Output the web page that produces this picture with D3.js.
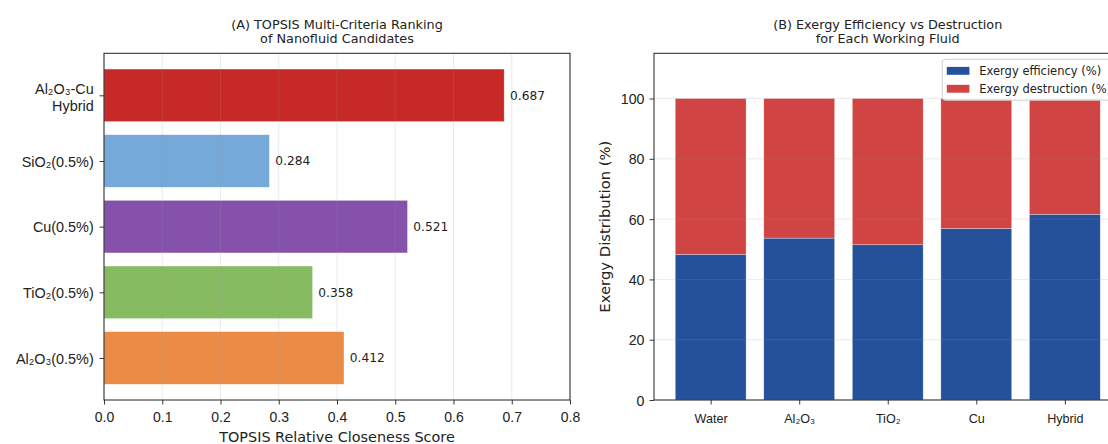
<!DOCTYPE html>
<html>
<head>
<meta charset="utf-8">
<script src="https://cdn.jsdelivr.net/npm/d3@7"></script>
<style>
  html, body { margin: 0; padding: 0; background: #fff; }
  svg { display: block; font-family: "DejaVu Sans", sans-serif; }
</style>
</head>
<body>
<svg id="fig" width="1108" height="444"></svg>
<script>
// ---- Panel A: TOPSIS ranking (bottom to top) ----
const topsisCandidates = ["Al₂O₃(0.5%)", "TiO₂(0.5%)", "Cu(0.5%)", "SiO₂(0.5%)", "Al₂O₃-Cu\nHybrid"];
const topsisScores = [0.412, 0.358, 0.521, 0.284, 0.687];
const topsisColors = ["#ec8b45", "#87bb62", "#8551aa", "#74a9da", "#c72828"];
const topsisTicks = [0.0, 0.1, 0.2, 0.3, 0.4, 0.5, 0.6, 0.7, 0.8];

// ---- Panel B: exergy split per working fluid ----
const fluids = ["Water", "Al₂O₃", "TiO₂", "Cu", "Hybrid"];
const exergyEfficiency = [48.3, 53.7, 51.5, 56.9, 61.6];
const exergyDestruction = [51.7, 46.3, 48.5, 43.1, 38.4];
const exergyTicks = [0, 20, 40, 60, 80, 100];
const seriesNames = ["Exergy efficiency (%)", "Exergy destruction (%)"];
const seriesColors = ["#25519b", "#d04444"];

const svg = d3.select("#fig");
const ink = "#222";
const TICK = 4.5;

function styleAxis(g) {
  g.selectAll(".domain").remove();
  g.selectAll(".tick line").attr("stroke", ink).attr("stroke-width", 0.9);
  g.selectAll(".tick text").attr("fill", ink);
}

function frame(g, x0, x1, y0, y1) {
  g.append("rect")
    .attr("x", x0).attr("y", y0).attr("width", x1 - x0).attr("height", y1 - y0)
    .attr("fill", "none").attr("stroke", ink).attr("stroke-width", 1);
}

// bottom tick labels sit on a fixed baseline under the axis
function bottomLabels(axisG, size, baseline, bottom) {
  axisG.selectAll(".tick text")
    .attr("font-size", size)
    .attr("y", baseline - bottom)
    .attr("dy", null);
}

// ================= Panel A =================
(function () {
  const L = 104, R = 570, T = 53.3, B = 400;
  const g = svg.append("g");
  const x = d3.scaleLinear().domain([0, 0.8]).range([L, R]);
  const y = d3.scaleLinear().domain([-0.64, 4.64]).range([B, T]);
  const idx = d3.range(topsisCandidates.length);
  const barH = y(0) - y(0.8);

  g.selectAll("rect.bar").data(idx).enter().append("rect")
    .attr("class", "bar")
    .attr("x", x(0))
    .attr("y", i => y(i + 0.4))
    .attr("width", i => x(topsisScores[i]) - x(0))
    .attr("height", barH)
    .attr("fill", i => topsisColors[i])
    .attr("stroke", "#fff").attr("stroke-opacity", 0.5).attr("stroke-width", 0.6);

  // vertical grid over bars
  g.selectAll("line.grid").data(topsisTicks).enter().append("line")
    .attr("x1", d => x(d)).attr("x2", d => x(d))
    .attr("y1", T).attr("y2", B)
    .attr("stroke", "#999").attr("stroke-opacity", 0.22).attr("stroke-width", 0.9);

  // value labels
  g.selectAll("text.val").data(idx).enter().append("text")
    .attr("x", i => x(topsisScores[i] + 0.01))
    .attr("y", i => y(i))
    .attr("dy", "0.36em")
    .attr("font-size", 12.2).attr("fill", ink)
    .text(i => topsisScores[i].toFixed(3));

  frame(g, L, R, T, B);

  const xa = g.append("g").attr("transform", `translate(0,${B})`)
    .call(d3.axisBottom(x).tickValues(topsisTicks).tickFormat(d3.format(".1f")).tickSizeOuter(0).tickSize(TICK));
  styleAxis(xa);
  bottomLabels(xa, 14, 422.3, B);

  const ya = g.append("g").attr("transform", `translate(${L},0)`)
    .call(d3.axisLeft(y).tickValues(idx).tickFormat("").tickSize(TICK));
  styleAxis(ya);
  // category labels, split on line breaks
  ya.selectAll(".tick").each(function (i) {
    const lines = topsisCandidates[i].split("\n");
    const t = d3.select(this).append("text")
      .attr("text-anchor", "end")
      .attr("font-size", 14.4).attr("fill", ink);
    const lh = 16.7;
    lines.forEach((s, k) => {
      t.append("tspan").attr("x", -10.3)
        .attr("y", (k - (lines.length - 1) / 2) * lh)
        .attr("dy", lines.length > 1 ? "0.45em" : "0.36em").text(s);
    });
  });

  const title = g.append("text").attr("text-anchor", "middle").attr("font-size", 12.8).attr("fill", ink);
  title.append("tspan").attr("x", (L + R) / 2).attr("y", 28.6).text("(A) TOPSIS Multi-Criteria Ranking");
  title.append("tspan").attr("x", (L + R) / 2).attr("y", 43.4).text("of Nanofluid Candidates");

  g.append("text").attr("x", (L + R) / 2).attr("y", 442.3)
    .attr("text-anchor", "middle").attr("font-size", 14.4).attr("fill", ink)
    .text("TOPSIS Relative Closeness Score");
})();

// ================= Panel B =================
(function () {
  const L = 654, R = 1121.5, T = 53.3, B = 400;
  const g = svg.append("g");
  const x = d3.scaleLinear().domain([-0.64, 4.64]).range([L, R]);
  const y = d3.scaleLinear().domain([0, 115]).range([B, T]);
  const idx = d3.range(fluids.length);
  const barW = x(0.8) - x(0);

  const stacked = idx.map(i => ({
    i,
    parts: [
      { y0: 0, y1: exergyEfficiency[i], c: seriesColors[0] },
      { y0: exergyEfficiency[i], y1: exergyEfficiency[i] + exergyDestruction[i], c: seriesColors[1] }
    ]
  }));

  stacked.forEach(s => {
    g.selectAll(null).data(s.parts).enter().append("rect")
      .attr("x", x(s.i - 0.4))
      .attr("width", barW)
      .attr("y", d => y(d.y1))
      .attr("height", d => y(d.y0) - y(d.y1))
      .attr("fill", d => d.c)
      .attr("stroke", "#fff").attr("stroke-opacity", 0.5).attr("stroke-width", 0.6);
  });

  // horizontal grid over bars
  g.selectAll("line.grid").data(exergyTicks).enter().append("line")
    .attr("x1", L).attr("x2", R)
    .attr("y1", d => y(d)).attr("y2", d => y(d))
    .attr("stroke", "#999").attr("stroke-opacity", 0.22).attr("stroke-width", 0.9);

  frame(g, L, R, T, B);

  const xa = g.append("g").attr("transform", `translate(0,${B})`)
    .call(d3.axisBottom(x).tickValues(idx).tickFormat(i => fluids[i]).tickSizeOuter(0).tickSize(TICK));
  styleAxis(xa);
  bottomLabels(xa, 12.6, 422.8, B);

  const ya = g.append("g").attr("transform", `translate(${L},0)`)
    .call(d3.axisLeft(y).tickValues(exergyTicks).tickFormat(d3.format("d")).tickSize(TICK).tickPadding(5));
  styleAxis(ya);
  ya.selectAll(".tick text").attr("font-size", 14.2).attr("dy", "0.36em");

  g.append("text")
    .attr("transform", `translate(610,${(T + B) / 2}) rotate(-90)`)
    .attr("text-anchor", "middle").attr("font-size", 14.8).attr("fill", ink)
    .text("Exergy Distribution (%)");

  const cx = (L + R) / 2;
  const title = g.append("text").attr("text-anchor", "middle").attr("font-size", 12.8).attr("fill", ink);
  title.append("tspan").attr("x", cx).attr("y", 28.6).text("(B) Exergy Efficiency vs Destruction");
  title.append("tspan").attr("x", cx).attr("y", 43.4).text("for Each Working Fluid");

  // legend, upper right
  const lg = g.append("g");
  const lx = 942.3, ly = 59.2, lw = 174, lh = 41;
  lg.append("rect").attr("x", lx).attr("y", ly).attr("width", lw).attr("height", lh)
    .attr("rx", 3).attr("fill", "#fff").attr("fill-opacity", 0.85)
    .attr("stroke", "#d0d0d0").attr("stroke-width", 1);
  seriesNames.forEach((name, k) => {
    const cy = 70.8 + k * 17.9;
    lg.append("rect").attr("x", 946.8).attr("y", cy - 3.9).attr("width", 22.6).attr("height", 7.9)
      .attr("fill", seriesColors[k]);
    lg.append("text").attr("x", 979.3).attr("y", cy).attr("dy", "0.36em")
      .attr("font-size", 11.5).attr("fill", ink).text(name);
  });
})();
</script>
</body>
</html>
